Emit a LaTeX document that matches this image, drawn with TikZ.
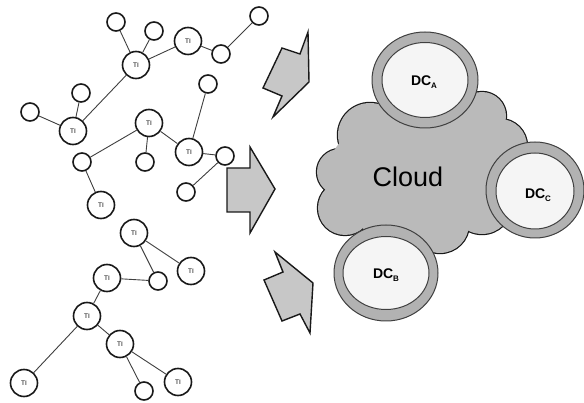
\documentclass[tikz,border=0pt]{standalone}
\usepackage{fontspec}
\setmainfont{Liberation Sans}
\begin{document}
\begin{tikzpicture}[x=1pt,y=-1pt,
  ti/.style={circle,draw=black!90,line width=1.6pt,fill=white,minimum size=27pt,inner sep=0pt,font=\fontsize{6.5}{7}\selectfont},
  sm/.style={circle,draw=black!90,line width=1.6pt,fill=white,minimum size=18pt,inner sep=0pt},
  link/.style={draw=black!75,line width=0.9pt},
  bigarrow/.style={fill=black!22,draw=black!90,line width=1.4pt,line join=miter},
  ring/.style={fill=black!30,draw=black!75,line width=1pt},
  hole/.style={fill=black!4,draw=black!75,line width=1pt},
  dclabel/.style={font=\fontsize{14}{16}\selectfont\bfseries,inner sep=0pt}
]
\useasboundingbox (0,0) rectangle (584,403);
\fill[white] (0,0) rectangle (584,403);

% arrows
\draw[bigarrow] (308,32) -- (300,54) -- (282,48) -- (263,88) -- (282,96) -- (273,117) -- (309,82) -- cycle;
\draw[bigarrow] (227,168) -- (250,168) -- (250,147) -- (275,189) -- (250,233) -- (250,212) -- (227,212) -- cycle;
\draw[bigarrow] (275,252) -- (283,272) -- (264,280) -- (282,321) -- (300,314) -- (310,333) -- (313,283) -- cycle;

% cloud (union of puffs)
\def\puffs{370/135/32, 340/172/23, 345/208/27, 425/110/35, 482/116/24, 500/146/27, 482/204/30, 440/224/29, 392/220/30}
\foreach \cx/\cy/\r in \puffs { \draw[black!90,line width=2.4pt] (\cx,\cy) circle[radius=\r pt]; }
\foreach \cx/\cy/\r in \puffs { \fill[black!27] (\cx,\cy) circle[radius=\r pt]; }
\fill[black!27] (420,172) ellipse[x radius=92pt,y radius=60pt];
\node[font=\fontsize{27}{30}\selectfont] (cloud) at (408,177) {Cloud};

% data centres
\draw[ring] (425,80) ellipse[x radius=53pt,y radius=48pt];
\draw[hole] (425,80) ellipse[x radius=43pt,y radius=37.5pt];
\node[dclabel] (dca) at (424,82) {DC\raisebox{-0.35ex}{\fontsize{8}{9}\selectfont A}};

\draw[ring] (386,273) ellipse[x radius=52pt,y radius=48pt];
\draw[hole] (386,273) ellipse[x radius=43pt,y radius=36.5pt];
\node[dclabel] (dcb) at (386,275) {DC\raisebox{-0.35ex}{\fontsize{8}{9}\selectfont B}};

\draw[ring] (535,190) ellipse[x radius=49pt,y radius=48pt];
\draw[hole] (535,191) ellipse[x radius=39pt,y radius=38pt];
\node[dclabel] (dcc) at (538,195) {DC\raisebox{-0.35ex}{\fontsize{8}{9}\selectfont C}};

% network nodes
\node[sm] (s1) at (116,22) {};
\node[sm] (s2) at (154,31) {};
\node[ti] (t1) at (188,41) {TI};
\node[sm] (s3) at (221,54) {};
\node[sm] (s4) at (259,16) {};
\node[ti] (t2) at (136,65) {TI};
\node[sm] (s5) at (81,93) {};
\node[sm] (s6) at (30,112) {};
\node[ti] (t3) at (73,131) {TI};
\node[ti] (t4) at (149,123) {TI};
\node[sm] (s7) at (208,84) {};
\node[ti] (t5) at (189,152) {TI};
\node[sm] (s8) at (225,156) {};
\node[sm] (s9) at (82,162) {};
\node[sm] (s10) at (145,162) {};
\node[sm] (s11) at (186,192) {};
\node[ti] (t6) at (101,205) {TI};
\node[ti] (t7) at (134,233) {TI};
\node[ti] (t8) at (191,271) {TI};
\node[sm] (s12) at (158,281) {};
\node[ti] (t9) at (107,278) {TI};
\node[ti] (t10) at (87,316) {TI};
\node[ti] (t11) at (120,344) {TI};
\node[ti] (t12) at (24,383) {TI};
\node[sm] (s13) at (144,391) {};
\node[ti] (t13) at (178,382) {TI};

\foreach \a/\b in {s1/t2, s2/t2, t2/t1, t1/s3, s3/s4, t2/t3, s5/t3, s6/t3, t4/s9, t4/s10, t4/t5, t5/s7, t5/s8, s8/s11, s9/t6, t7/s12, t7/t8, t9/s12, t9/t10, t10/t11, t10/t12, t11/s13, t11/t13}
  \draw[link] (\a) -- (\b);
\end{tikzpicture}
\end{document}
